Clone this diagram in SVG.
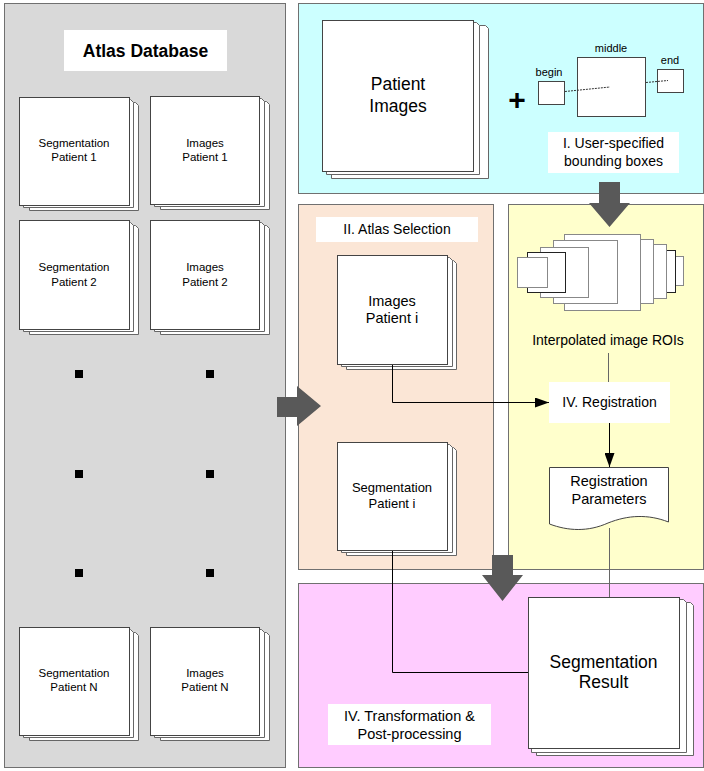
<svg xmlns="http://www.w3.org/2000/svg" width="704" height="771" viewBox="0 0 704 771">
<style>
text{font-family:"Liberation Sans",Arial,sans-serif;fill:#000;text-anchor:middle}
.panel{stroke:#707070;stroke-width:1}
.pg{fill:#fff;stroke:#444;stroke-width:1}
.pgb{fill:#fff;stroke:#666;stroke-width:1}
.lbl{fill:#fff;stroke:none}
.s{font-size:11.5px}
.m{font-size:14px}
.big{font-size:17.5px}
.conn{fill:none;stroke:#000;stroke-width:1}
.conng{fill:none;stroke:#666;stroke-width:1}
.arrowbig{fill:#595959}
.roi{fill:#fff;stroke:#888;stroke-width:1}
.roik{fill:#fff;stroke:#222;stroke-width:1}
.dot{fill:#000}
</style>
<defs>
<marker id="ah" markerWidth="14" markerHeight="10" refX="14" refY="5" orient="auto" markerUnits="userSpaceOnUse">
<path d="M0,0 L14,5 L0,10 Z" fill="#000"/>
</marker>
</defs>
<rect width="704" height="771" fill="#fff"/>

<!-- panels -->
<g id="panel-atlas">
<rect class="panel" x="4.5" y="3.5" width="281" height="764" fill="#d9d9d9"/>
</g>
<g id="panel-bbox">
<rect class="panel" x="298.5" y="3.5" width="405" height="190" fill="#ccffff" stroke="#333"/>
</g>
<g id="panel-selection">
<rect class="panel" x="298.5" y="204.5" width="195" height="365" fill="#fbe6d6"/>
</g>
<g id="panel-registration">
<rect class="panel" x="508.5" y="204.5" width="195" height="365" fill="#ffffcc"/>
</g>
<g id="panel-transform">
<rect class="panel" x="298.5" y="583.5" width="405" height="184" fill="#ffccff"/>
</g>

<!-- atlas database -->
<g id="atlas-title">
<rect class="lbl" x="64" y="30" width="163" height="41"/>
<text x="145.5" y="57" style="font-size:17.5px;font-weight:bold">Atlas Database</text>
</g>

<g id="seg-p1">
<path class="pgb" d="M29.5,102.5 H135.5 L138.5,105.5 V210.5 H29.5 Z"/>
<path class="pgb" d="M23.5,99.5 H130.5 L133.5,102.5 V207.5 H23.5 Z"/>
<rect class="pg" x="19.5" y="97.5" width="110" height="108"/>
<text class="s" x="74" y="147">Segmentation</text>
<text class="s" x="74" y="161">Patient 1</text>
</g>
<g id="img-p1">
<path class="pgb" d="M160.5,101.5 H266.5 L269.5,104.5 V209.5 H160.5 Z"/>
<path class="pgb" d="M154.5,98.5 H261.5 L264.5,101.5 V206.5 H154.5 Z"/>
<rect class="pg" x="150.5" y="96.5" width="109" height="108"/>
<text class="s" x="205" y="147">Images</text>
<text class="s" x="205" y="161">Patient 1</text>
</g>
<g id="seg-p2">
<path class="pgb" d="M29.5,225.5 H135.5 L138.5,228.5 V334.5 H29.5 Z"/>
<path class="pgb" d="M23.5,222.5 H130.5 L133.5,225.5 V331.5 H23.5 Z"/>
<rect class="pg" x="19.5" y="220.5" width="110" height="109"/>
<text class="s" x="74" y="271">Segmentation</text>
<text class="s" x="74" y="286">Patient 2</text>
</g>
<g id="img-p2">
<path class="pgb" d="M160.5,225.5 H266.5 L269.5,228.5 V334.5 H160.5 Z"/>
<path class="pgb" d="M154.5,222.5 H261.5 L264.5,225.5 V331.5 H154.5 Z"/>
<rect class="pg" x="150.5" y="220.5" width="109" height="109"/>
<text class="s" x="205" y="271">Images</text>
<text class="s" x="205" y="286">Patient 2</text>
</g>
<g id="dots">
<rect class="dot" x="75" y="370" width="8" height="8"/>
<rect class="dot" x="206" y="370" width="8" height="8"/>
<rect class="dot" x="75" y="470" width="8" height="8"/>
<rect class="dot" x="206" y="470" width="8" height="8"/>
<rect class="dot" x="75" y="569" width="8" height="8"/>
<rect class="dot" x="206" y="569" width="8" height="8"/>
</g>
<g id="seg-pn">
<path class="pgb" d="M29.5,632.5 H135.5 L138.5,635.5 V740.5 H29.5 Z"/>
<path class="pgb" d="M23.5,629.5 H130.5 L133.5,632.5 V737.5 H23.5 Z"/>
<rect class="pg" x="19.5" y="627.5" width="110" height="108"/>
<text class="s" x="74" y="677">Segmentation</text>
<text class="s" x="74" y="691">Patient N</text>
</g>
<g id="img-pn">
<path class="pgb" d="M160.5,632.5 H266.5 L269.5,635.5 V740.5 H160.5 Z"/>
<path class="pgb" d="M154.5,629.5 H261.5 L264.5,632.5 V737.5 H154.5 Z"/>
<rect class="pg" x="150.5" y="627.5" width="109" height="108"/>
<text class="s" x="205" y="677">Images</text>
<text class="s" x="205" y="691">Patient N</text>
</g>

<!-- bounding boxes panel -->
<g id="patient-images">
<path class="pgb" d="M331.5,25.5 H485.5 L488.5,28.5 V178.5 H331.5 Z"/>
<path class="pgb" d="M326.5,22.5 H476.5 L479.5,25.5 V174.5 H326.5 Z"/>
<rect class="pg" x="322.5" y="20.5" width="151" height="151"/>
<text class="big" x="398" y="90">Patient</text>
<text class="big" x="398" y="112">Images</text>
</g>
<g id="plus">
<text x="517" y="110" style="font-size:30px;font-weight:bold">+</text>
</g>
<g id="bbox-shapes">
<rect class="pg" x="538.5" y="81.5" width="26" height="23"/>
<rect class="pg" x="577.5" y="57.5" width="68" height="59"/>
<rect class="pg" x="657.5" y="69.5" width="26" height="23"/>
<line x1="565" y1="91.5" x2="610" y2="87" stroke="#333" stroke-width="1" stroke-dasharray="2,1"/>
<line x1="646" y1="82.5" x2="668" y2="80.5" stroke="#333" stroke-width="1" stroke-dasharray="2,1"/>
<text x="549" y="76" style="font-size:11px">begin</text>
<text x="611" y="52" style="font-size:11px">middle</text>
<text x="670" y="64" style="font-size:11px">end</text>
</g>
<g id="label-bbox">
<rect class="lbl" x="548" y="132" width="131" height="41"/>
<text class="m" x="613.5" y="148">I. User-specified</text>
<text class="m" x="613.5" y="166">bounding boxes</text>
</g>

<!-- atlas selection panel -->
<g id="label-selection">
<rect class="lbl" x="316" y="217" width="162" height="25"/>
<text class="m" x="397" y="234">II. Atlas Selection</text>
</g>
<g id="img-pi">
<path class="pgb" d="M346.5,260.5 H453.5 L456.5,263.5 V369.5 H346.5 Z"/>
<path class="pgb" d="M341.5,257.5 H449.5 L452.5,260.5 V366.5 H341.5 Z"/>
<rect class="pg" x="337.5" y="255.5" width="110" height="109"/>
<text x="392" y="306" style="font-size:14.5px">Images</text>
<text x="392" y="323" style="font-size:14.5px">Patient i</text>
</g>
<g id="seg-pi">
<path class="pgb" d="M346.5,447.5 H453.5 L456.5,450.5 V555.5 H346.5 Z"/>
<path class="pgb" d="M341.5,444.5 H449.5 L452.5,447.5 V552.5 H341.5 Z"/>
<rect class="pg" x="337.5" y="442.5" width="110" height="108"/>
<text x="392" y="492" style="font-size:13px">Segmentation</text>
<text x="392" y="508" style="font-size:13px">Patient i</text>
</g>

<!-- registration panel -->
<g id="rois">
<rect class="roi" x="650.5" y="256.5" width="33" height="29"/>
<rect class="roik" x="640.5" y="250.5" width="35" height="42"/>
<rect class="roi" x="630.5" y="244.5" width="36" height="54"/>
<rect class="roi" x="620.5" y="239.5" width="33" height="64"/>
<rect class="roi" x="564.5" y="234.5" width="76" height="76"/>
<rect class="roi" x="553.5" y="240.5" width="64" height="63"/>
<rect class="roi" x="540.5" y="247.5" width="48" height="50"/>
<rect class="roik" x="527.5" y="252.5" width="38" height="40"/>
<rect class="roi" x="517.5" y="257.5" width="30" height="30"/>
</g>
<g id="label-rois">
<text class="m" x="608" y="345">Interpolated image ROIs</text>
</g>
<g id="registration">
<rect class="lbl" x="549" y="382" width="121" height="41"/>
<text class="m" x="609.5" y="407">IV. Registration</text>
</g>
<g id="reg-params">
<path d="M549.5,467.5 H668.5 V522 C648,514 628,515 608,523 C588,532 568,531 549.5,524 Z" fill="#fff" stroke="#444" stroke-width="1"/>
<text x="609" y="486" style="font-size:14.5px">Registration</text>
<text x="609" y="504" style="font-size:14.5px">Parameters</text>
</g>

<!-- transformation panel -->
<g id="seg-result">
<path class="pgb" d="M536.5,602.5 H690.5 L693.5,605.5 V755.5 H536.5 Z"/>
<path class="pgb" d="M531.5,599.5 H683.5 L686.5,602.5 V752.5 H531.5 Z"/>
<rect class="pg" x="528.5" y="597.5" width="151" height="151"/>
<text class="big" x="603.5" y="668">Segmentation</text>
<text class="big" x="603.5" y="688">Result</text>
</g>
<g id="label-transform">
<rect class="lbl" x="328" y="704" width="163" height="41"/>
<text x="409.5" y="721" style="font-size:14.5px">IV. Transformation &amp;</text>
<text x="409.5" y="739" style="font-size:14.5px">Post-processing</text>
</g>

<!-- connectors -->
<g id="connectors">
<path class="arrowbig" d="M277,397 H297 V386 L321,406 L297,426 V417 H277 Z"/>
<path class="arrowbig" d="M599,182 H620 V203 H630 L609.5,227 L589,203 H599 Z"/>
<path class="arrowbig" d="M492,555 H513 V575 H523 L502.5,601 L482,575 H492 Z"/>
<path class="conn" d="M392.5,365 V402.5 H549" marker-end="url(#ah)"/>
<line class="conng" x1="608.5" y1="353" x2="608.5" y2="382"/>
<path class="conn" d="M609.5,423 V467" marker-end="url(#ah)"/>
<line class="conng" x1="609.5" y1="528" x2="609.5" y2="597"/>
<path class="conn" d="M392.5,551 V672.5 H528"/>
</g>
</svg>
